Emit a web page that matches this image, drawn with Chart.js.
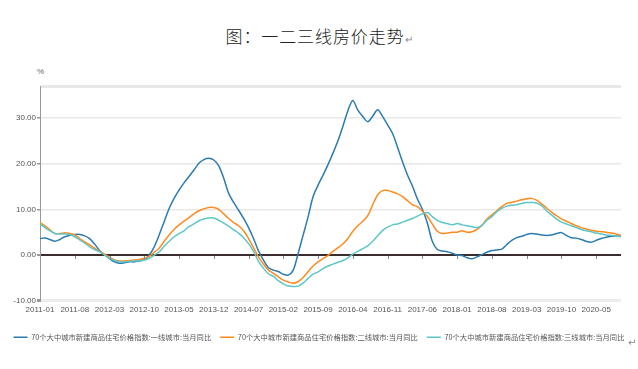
<!DOCTYPE html>
<html>
<head>
<meta charset="utf-8">
<script src="https://cdn.jsdelivr.net/npm/chart.js@4/dist/chart.umd.min.js"></script>
<style>
  html, body { margin: 0; padding: 0; background: #fff; }
  #wrap { position: relative; width: 638px; height: 369px; overflow: hidden; }
  #title { position: absolute; top: 23px; left: 0; width: 638px; text-align: center;
    font-family: "Noto Sans CJK SC", sans-serif; font-weight: 300; font-size: 17px; color: #222; letter-spacing: 0.9px; }
  #title span, #ret { color: #888; font-size: 10px; letter-spacing: 0; }
  #ret { position: absolute; left: 628px; top: 337px; font-family: "DejaVu Sans", sans-serif; }
  #unit { position: absolute; left: 37px; top: 67px; font-family: "Liberation Sans", sans-serif; font-size: 8px; color: #666; }
  canvas { position: absolute; top: 0; left: 0; }
</style>
</head>
<body>
<div id="wrap">
  <div id="title">图：一二三线房价走势<span>↵</span></div>
  <div id="unit">%</div>
  <canvas id="chart" width="638" height="369"></canvas>
  <div id="ret">↵</div>
</div>
<script>
// monthly, 2011-01 .. 2020-10, year-on-year %
var seriesNames = [
	'70个大中城市新建商品住宅价格指数:一线城市:当月同比',
	'70个大中城市新建商品住宅价格指数:二线城市:当月同比',
	'70个大中城市新建商品住宅价格指数:三线城市:当月同比'
];
var tier1 = [
	3.6, 3.7, 3.4, 3.0, 3.4, 4.0, 4.3, 4.5, 4.5, 4.2, 3.6, 2.4, 1.0, 0.0, -0.8, -1.5, -1.8, -1.7, -1.5, -1.5,
	-1.3, -1.0, 0.0, 1.8, 4.4, 7.3, 10.2, 12.4, 14.2, 15.8, 17.2, 18.6, 20.1, 20.9, 21.2, 20.8, 19.5, 16.8, 13.5, 11.5,
	9.8, 8.0, 6.0, 3.6, 0.9, -1.1, -2.8, -3.3, -3.6, -4.2, -4.4, -3.3, 0.4, 4.4, 8.4, 12.8, 15.3, 17.5, 19.8, 22.3,
	25.0, 28.2, 31.6, 33.8, 31.7, 30.3, 29.2, 30.4, 31.8, 30.3, 28.5, 26.6, 23.6, 20.4, 17.5, 15.1, 12.3, 10.0, 7.0, 3.0,
	1.2, 0.9, 0.7, 0.4, 0.0, -0.1, -0.6, -0.8, -0.4, 0.1, 0.6, 1.0, 1.1, 1.3, 2.3, 3.2, 3.8, 4.1, 4.5, 4.7,
	4.6, 4.4, 4.3, 4.4, 4.7, 4.9, 4.3, 3.8, 3.7, 3.4, 3.0, 2.8, 3.2, 3.6, 3.9, 4.1, 4.2, 4.3
];
var tier2 = [
	7.1, 6.4, 5.5, 4.7, 4.7, 4.9, 4.7, 4.4, 3.6, 2.9, 2.2, 1.5, 0.8, 0.2, -0.5, -1.1, -1.3, -1.3, -1.2, -1.1,
	-1.0, -0.7, -0.3, 0.6, 1.5, 3.0, 4.4, 5.6, 6.6, 7.4, 8.2, 9.0, 9.7, 10.1, 10.4, 10.4, 10.0, 9.0, 8.0, 7.1,
	6.4, 5.3, 3.6, 1.6, -0.4, -2.0, -3.3, -4.0, -4.8, -5.5, -5.9, -6.2, -5.8, -4.9, -3.6, -2.4, -1.5, -0.8, -0.1, 0.8,
	1.6, 2.4, 3.6, 5.2, 6.4, 7.4, 8.6, 11.0, 13.2, 14.1, 14.1, 13.8, 13.4, 12.8, 11.9, 11.0, 10.6, 9.6, 8.5, 6.8,
	5.2, 4.7, 4.8, 5.0, 5.0, 5.3, 5.0, 5.1, 5.6, 6.5, 7.9, 8.8, 9.7, 10.6, 11.3, 11.5, 11.8, 12.1, 12.3, 12.4,
	12.0, 11.2, 10.3, 9.4, 8.6, 7.9, 7.4, 6.9, 6.4, 6.0, 5.7, 5.4, 5.2, 5.1, 5.0, 4.8, 4.6, 4.2
];
var tier3 = [
	6.8, 6.0, 5.3, 4.7, 4.6, 4.6, 4.5, 4.0, 3.3, 2.6, 1.8, 1.2, 0.7, 0.0, -0.7, -1.2, -1.5, -1.5, -1.4, -1.3,
	-1.3, -1.1, -0.7, 0.0, 0.7, 1.9, 3.0, 4.0, 4.7, 5.3, 6.2, 6.8, 7.5, 7.9, 8.1, 8.1, 7.6, 7.0, 6.3, 5.5,
	4.8, 3.8, 2.5, 0.8, -1.4, -2.9, -4.1, -4.7, -5.6, -6.3, -6.8, -6.9, -6.8, -6.1, -5.1, -4.2, -3.7, -3.0, -2.4, -2.0,
	-1.6, -1.2, -0.6, 0.2, 0.8, 1.4, 2.0, 3.0, 4.2, 5.4, 6.1, 6.6, 6.8, 7.2, 7.6, 8.0, 8.5, 9.0, 9.3, 8.4,
	7.6, 7.1, 6.9, 6.6, 6.9, 6.6, 6.4, 6.2, 6.0, 6.5, 7.6, 8.4, 9.5, 10.2, 10.7, 10.9, 11.0, 11.3, 11.5, 11.5,
	11.4, 10.8, 9.7, 8.8, 7.9, 7.2, 6.8, 6.4, 6.0, 5.6, 5.3, 5.1, 4.8, 4.6, 4.4, 4.3, 4.2, 4.0
];
var lineColors = ['#2c7bb0', '#ff8a1e', '#5ec6c6'];
var yTicks = [-10, 0, 10, 20, 30];
var yTop = 37;

// month labels 2011-01 .. 2020-10, shown every 7th
var months = [];
for (var y = 2011; y <= 2020; y++) {
	for (var m = 1; m <= 12; m++) {
		if (months.length < tier1.length) months.push(y + '-' + (m < 10 ? '0' + m : m));
	}
}

// small tick marks sitting on the zero line
var zeroTicks = {
	id: 'zeroTicks',
	afterDatasetsDraw: function(chart) {
		var ctx = chart.ctx;
		var xs = chart.scales.x, ys = chart.scales.y;
		var y0 = ys.getPixelForValue(0);
		ctx.save();
		ctx.strokeStyle = '#888';
		ctx.lineWidth = 1;
		for (var i = 7; i < months.length; i += 7) {
			var px = Math.round(xs.getPixelForValue(i)) + 0.5;
			ctx.beginPath();
			ctx.moveTo(px, y0 + 1);
			ctx.lineTo(px, y0 + 4);
			ctx.stroke();
		}
		ctx.restore();
	}
};

var small = { family: "'Liberation Sans Narrow', 'Liberation Sans', sans-serif", size: 8 };

new Chart(document.getElementById('chart'), {
	type: 'line',
	data: {
		labels: months,
		datasets: [tier1, tier2, tier3].map(function(d, k) {
			return {
				label: seriesNames[k],
				data: d,
				borderColor: lineColors[k],
				backgroundColor: lineColors[k],
				borderWidth: 1.5,
				pointRadius: 0,
				tension: 0.3,
				fill: false
			};
		}).reverse()
	},
	options: {
		responsive: false,
		animation: false,
		layout: { padding: { top: 86, right: 0, left: 0, bottom: 18 } },
		plugins: {
			title: { display: false },
			tooltip: { enabled: false },
			legend: {
				position: 'bottom',
				reverse: true,
				labels: {
					usePointStyle: true,
					pointStyle: 'line',
					pointStyleWidth: 14,
					boxHeight: 8,
					padding: 9,
					color: '#555',
					font: { family: "'Noto Sans CJK SC', sans-serif", size: 7.3 }
				}
			}
		},
		scales: {
			x: {
				offset: false,
				grid: { display: false, drawTicks: false },
				border: { display: false },
				ticks: {
					autoSkip: false,
					maxRotation: 0,
					padding: 4,
					color: '#555',
					font: small,
					callback: function(v, i) { return i % 7 === 0 ? months[i] : ''; }
				},
				afterFit: function(s) { s.height = 24; }
			},
			y: {
				min: -10,
				max: yTop,
				afterBuildTicks: function(s) {
					s.ticks = yTicks.concat([yTop]).map(function(v) { return { value: v }; });
				},
				border: { color: '#999', width: 1 },
				grid: {
					tickLength: 3,
					tickColor: function(c) { return c.tick.value === yTop ? 'rgba(0,0,0,0)' : '#999'; },
					color: function(c) {
						if (c.tick.value === 0) return '#3b2d2d';
						if (c.tick.value === -10) return '#ececec';
						return '#e8e8e8';
					},
					lineWidth: function(c) {
						if (c.tick.value === 0) return 2;
						if (c.tick.value === -10 || c.tick.value === yTop) return 3;
						return 1.5;
					}
				},
				ticks: {
					padding: 1,
					color: '#555',
					font: small,
					callback: function(v) { return v === yTop ? '' : v.toFixed(2); }
				},
				afterFit: function(s) { s.width = 40; }
			},
			// empty right-hand margin so the legend can use the full width
			yRight: {
				position: 'right',
				display: true,
				min: -10,
				max: yTop,
				grid: { display: false, drawTicks: false },
				border: { display: false },
				ticks: { display: false },
				afterFit: function(s) { s.width = 17; }
			}
		}
	},
	plugins: [zeroTicks]
});
</script>
</body>
</html>
